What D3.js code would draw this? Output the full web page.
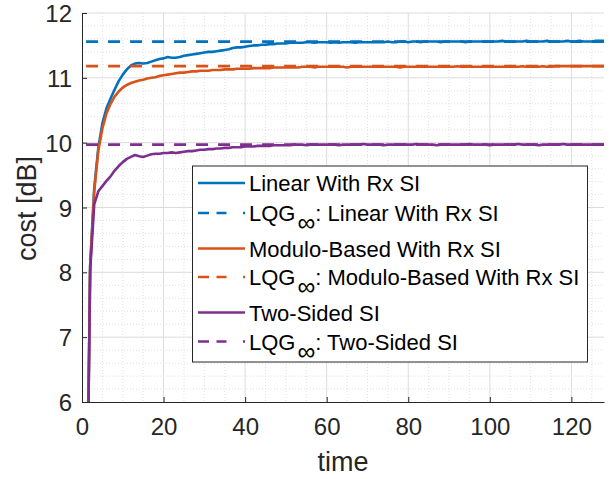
<!DOCTYPE html>
<html>
<head>
<meta charset="utf-8">
<script src="https://cdn.jsdelivr.net/npm/d3@7"></script>
<style>
  body { margin: 0; background: #fff; }
  svg { font-family: "Liberation Sans", Arial, sans-serif; }
</style>
</head>
<body>
<svg width="616" height="479"></svg>
<script>
// *** DATA ***
const time = d3.range(1, 129); // time steps 1..128

const linearRx = [
  3.0, 8.10, 9.30, 9.92, 10.30, 10.53, 10.68, 10.82, 10.95, 11.05,
  11.13, 11.19, 11.22, 11.23, 11.22, 11.23, 11.25, 11.27, 11.29, 11.30,
  11.32, 11.31, 11.31, 11.32, 11.34, 11.35, 11.36, 11.37, 11.38, 11.39,
  11.40, 11.40, 11.41, 11.42, 11.43, 11.44, 11.46, 11.47, 11.47, 11.48,
  11.49, 11.50, 11.50, 11.51, 11.51, 11.52, 11.52, 11.53, 11.53, 11.53,
  11.54, 11.54, 11.54, 11.54, 11.55, 11.55, 11.54, 11.55, 11.55, 11.55,
  11.54, 11.55, 11.54, 11.55, 11.55, 11.55, 11.54, 11.55, 11.55, 11.55,
  11.55, 11.55, 11.55, 11.55, 11.56, 11.55, 11.55, 11.56, 11.56, 11.55,
  11.56, 11.56, 11.55, 11.56, 11.56, 11.56, 11.56, 11.55, 11.56, 11.56,
  11.56, 11.56, 11.56, 11.55, 11.56, 11.56, 11.56, 11.56, 11.56, 11.56,
  11.56, 11.56, 11.57, 11.56, 11.56, 11.56, 11.56, 11.56, 11.57, 11.56,
  11.56, 11.56, 11.56, 11.57, 11.56, 11.56, 11.56, 11.56, 11.57, 11.56,
  11.56, 11.57, 11.56, 11.56, 11.56, 11.57, 11.57, 11.57
];

const moduloRx = [
  3.0, 8.10, 9.25, 9.88, 10.22, 10.45, 10.60, 10.71, 10.79, 10.85,
  10.89, 10.92, 10.94, 10.96, 10.97, 10.99, 11.00, 11.01, 11.03, 11.04,
  11.05, 11.06, 11.07, 11.08, 11.08, 11.09, 11.10, 11.10, 11.11, 11.11,
  11.11, 11.12, 11.12, 11.12, 11.13, 11.13, 11.13, 11.14, 11.14, 11.14,
  11.14, 11.15, 11.15, 11.15, 11.15, 11.15, 11.16, 11.16, 11.16, 11.16,
  11.16, 11.16, 11.16, 11.17, 11.17, 11.17, 11.16, 11.17, 11.17, 11.17,
  11.17, 11.17, 11.17, 11.17, 11.16, 11.17, 11.17, 11.17, 11.17, 11.17,
  11.17, 11.17, 11.17, 11.17, 11.17, 11.17, 11.17, 11.16, 11.17, 11.17,
  11.17, 11.17, 11.17, 11.17, 11.17, 11.17, 11.17, 11.17, 11.17, 11.17,
  11.17, 11.18, 11.17, 11.17, 11.17, 11.17, 11.17, 11.17, 11.17, 11.17,
  11.17, 11.17, 11.17, 11.17, 11.17, 11.17, 11.17, 11.18, 11.17, 11.17,
  11.17, 11.17, 11.18, 11.17, 11.17, 11.18, 11.18, 11.18, 11.18, 11.18,
  11.18, 11.18, 11.18, 11.18, 11.18, 11.18, 11.18, 11.18
];

const twoSided = [
  3.0, 8.02, 9.05, 9.25, 9.33, 9.41, 9.48, 9.57, 9.64, 9.70,
  9.75, 9.78, 9.81, 9.79, 9.78, 9.80, 9.82, 9.83, 9.83, 9.84,
  9.84, 9.85, 9.84, 9.85, 9.86, 9.87, 9.87, 9.88, 9.89, 9.89,
  9.90, 9.90, 9.91, 9.91, 9.92, 9.92, 9.93, 9.93, 9.93, 9.94,
  9.94, 9.94, 9.95, 9.95, 9.95, 9.95, 9.96, 9.96, 9.96, 9.96,
  9.96, 9.97, 9.97, 9.97, 9.96, 9.97, 9.97, 9.97, 9.97, 9.97,
  9.97, 9.97, 9.96, 9.97, 9.97, 9.97, 9.97, 9.97, 9.98, 9.97,
  9.97, 9.97, 9.97, 9.96, 9.97, 9.97, 9.97, 9.97, 9.97, 9.97,
  9.97, 9.98, 9.97, 9.97, 9.97, 9.97, 9.96, 9.97, 9.97, 9.97,
  9.97, 9.97, 9.97, 9.97, 9.98, 9.97, 9.97, 9.97, 9.97, 9.96,
  9.97, 9.97, 9.97, 9.97, 9.97, 9.97, 9.98, 9.97, 9.97, 9.97,
  9.97, 9.96, 9.97, 9.97, 9.97, 9.97, 9.97, 9.98, 9.97, 9.97,
  9.97, 9.97, 9.97, 9.97, 9.97, 9.97, 9.97, 9.97
];

// LQG_inf steady-state costs
const lqgLinear = 11.56;
const lqgModulo = 11.18;
const lqgTwoSided = 9.97;

const xTicks = [0, 20, 40, 60, 80, 100, 120];
const yTicks = [6, 7, 8, 9, 10, 11, 12];
const xMinor = [5, 10, 15, 25, 30, 35, 45, 50, 55, 65, 70, 75, 85, 90, 95, 105, 110, 115, 125];
const yMinor = [6.2, 6.4, 6.6, 6.8, 7.2, 7.4, 7.6, 7.8, 8.2, 8.4, 8.6, 8.8, 9.2, 9.4, 9.6, 9.8,
                10.2, 10.4, 10.6, 10.8, 11.2, 11.4, 11.6, 11.8];

const legendLabels = ["Linear With Rx SI", "Linear With Rx SI", "Modulo-Based With Rx SI",
                      "Modulo-Based With Rx SI", "Two-Sided SI", "Two-Sided SI"];

// *** CHART ***
const svg = d3.select("svg");
const plotLeft = 82, plotRight = 604, plotTop = 13, plotBottom = 402;

const x = d3.scaleLinear().domain([0, 128]).range([plotLeft, plotRight]);
const y = d3.scaleLinear().domain([6, 12]).range([plotBottom, plotTop]);

const blue = "#0072BD", orange = "#D95319", purple = "#7E2F8E";
const axisColor = "#262626";

// grid
const grid = svg.append("g");
grid.selectAll(".xminor").data(xMinor).enter().append("line")
  .attr("x1", d => x(d)).attr("x2", d => x(d)).attr("y1", plotTop).attr("y2", plotBottom)
  .attr("stroke", "#e0e0e0").attr("stroke-dasharray", "1,2");
grid.selectAll(".yminor").data(yMinor).enter().append("line")
  .attr("y1", d => y(d)).attr("y2", d => y(d)).attr("x1", plotLeft).attr("x2", plotRight)
  .attr("stroke", "#e0e0e0").attr("stroke-dasharray", "1,2");
grid.selectAll(".xmajor").data(xTicks.slice(1)).enter().append("line")
  .attr("x1", d => x(d)).attr("x2", d => x(d)).attr("y1", plotTop).attr("y2", plotBottom)
  .attr("stroke", "#dcdcdc");
grid.selectAll(".ymajor").data(yTicks.slice(1)).enter().append("line")
  .attr("y1", d => y(d)).attr("y2", d => y(d)).attr("x1", plotLeft).attr("x2", plotRight)
  .attr("stroke", "#dcdcdc");

svg.append("clipPath").attr("id", "clip")
  .append("rect").attr("x", plotLeft).attr("y", plotTop)
  .attr("width", plotRight - plotLeft).attr("height", plotBottom - plotTop);

const plot = svg.append("g").attr("clip-path", "url(#clip)");
const line = d3.line().x((d, i) => x(time[i])).y(d => y(d));

const series = [
  { values: linearRx, color: blue, dash: null },
  { values: time.map(() => lqgLinear), color: blue, dash: "12,10" },
  { values: moduloRx, color: orange, dash: null },
  { values: time.map(() => lqgModulo), color: orange, dash: "12,10" },
  { values: twoSided, color: purple, dash: null },
  { values: time.map(() => lqgTwoSided), color: purple, dash: "12,10" }
];

series.forEach(s => {
  plot.append("path")
    .attr("d", line(s.values))
    .attr("fill", "none")
    .attr("stroke", s.color)
    .attr("stroke-width", s.dash ? 2.7 : 2.6)
    .attr("stroke-linejoin", "round")
    .attr("stroke-dasharray", s.dash);
});

// axes
const xAxis = svg.append("g").attr("transform", `translate(0,${plotBottom})`)
  .call(d3.axisBottom(x).tickValues(xTicks).tickFormat(d3.format("d"))
    .tickSize(-5).tickPadding(20).tickSizeOuter(0));
const yAxis = svg.append("g").attr("transform", `translate(${plotLeft},0)`)
  .call(d3.axisLeft(y).tickValues(yTicks).tickFormat(d3.format("d"))
    .tickSize(-5).tickPadding(10).tickSizeOuter(0));

[xAxis, yAxis].forEach(a => {
  a.select(".domain").attr("stroke", axisColor);
  a.selectAll(".tick line").attr("stroke", axisColor);
  a.selectAll(".tick text")
    .attr("fill", axisColor)
    .style("font-size", "24px")
    .style("font-family", "'Liberation Sans', Arial, sans-serif");
});
xAxis.selectAll(".tick text").attr("dy", "0.55em");
yAxis.selectAll(".tick text").attr("dy", "0.36em");

svg.append("text")
  .attr("x", (plotLeft + plotRight) / 2).attr("y", 471)
  .attr("text-anchor", "middle")
  .attr("fill", axisColor)
  .style("font-size", "27px")
  .text("time");

svg.append("text")
  .attr("transform", `translate(36,${(plotTop + plotBottom) / 2 + 1}) rotate(-90)`)
  .attr("text-anchor", "middle")
  .attr("fill", axisColor)
  .style("font-size", "27px")
  .text("cost [dB]");

// legend
const legend = svg.append("g");
legend.append("rect")
  .attr("x", 192.5).attr("y", 166).attr("width", 395).attr("height", 196)
  .attr("fill", "#fff").attr("stroke", axisColor).attr("stroke-width", 1);

const baselines = [191, 221, 256.5, 285, 320.5, 349.5];

series.forEach((s, i) => {
  const by = baselines[i];
  legend.append("line")
    .attr("x1", 198).attr("x2", 245)
    .attr("y1", by - 8).attr("y2", by - 8)
    .attr("stroke", s.color)
    .attr("stroke-width", 2.7)
    .attr("stroke-dasharray", s.dash ? "11,7.5,10,16.5,2" : null);

  const t = legend.append("text")
    .attr("x", 249).attr("y", by)
    .attr("fill", "#000")
    .style("font-size", "22px");
  if (s.dash) {
    t.append("tspan").text("LQG");
    t.append("tspan").attr("dx", 2).attr("dy", 10).style("font-size", "25px").text("\u221E");
    t.append("tspan").attr("dy", -10).text(": " + legendLabels[i]);
  } else {
    t.text(legendLabels[i]);
  }
});
</script>
</body>
</html>
